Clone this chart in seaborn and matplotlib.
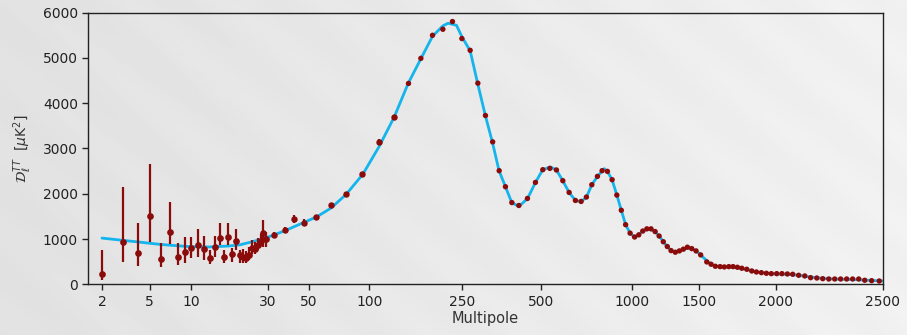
import numpy as np
import matplotlib
matplotlib.use("Agg")
import matplotlib.pyplot as plt
import seaborn as sns

# low multipoles, one point per l, asymmetric errors
ell_low = [2, 3, 4, 5, 6, 7, 8, 9, 10, 11, 12, 13, 14, 15, 16, 17, 18, 19, 20,
           21, 22, 23, 24, 25, 26, 27, 28, 29]
dl_low = [221, 943, 700, 1512, 567, 1165, 611, 708, 810, 870, 781, 575, 833, 1032,
          611, 1040, 664, 965, 649, 598, 575, 649, 797, 775, 870, 965, 1129, 996]
lo_low = [126, 443, 295, 569, 191, 273, 184, 243, 235, 270, 243, 126, 222, 162,
          146, 170, 164, 206, 171, 120, 110, 110, 120, 110, 120, 120, 296, 177]
hi_low = [538, 1204, 650, 1145, 354, 657, 310, 332, 230, 340, 288, 184, 236, 332,
          148, 310, 133, 266, 110, 190, 160, 170, 170, 160, 160, 150, 295, 169]

# first binned points (small error bars still visible)
ell_mid = [32.2, 37.1, 41.9, 47.0, 54.6, 64.6, 76.9, 92.6, 110.1, 128.4]
dl_mid = [1091, 1195, 1440, 1364, 1483, 1756, 1992, 2435, 3150, 3690]
err_mid = [70, 60, 90, 70, 50, 45, 45, 45, 50, 50]

# binned high-l points
ell_high = [147.5, 166.7, 187, 207.2, 227.8, 250, 268.8, 287.5, 307.3, 327.3,
            346.4, 366, 387, 411.5, 443.6, 475.7, 506.5, 534.4, 562, 590.2,
            619.3, 649.8, 678.7, 706.8, 736.6, 768.9, 797, 830, 860.3, 891.8,
            922.9, 953.8, 987.2, 1017, 1043, 1068.5, 1095, 1123, 1151, 1179,
            1209, 1238.5, 1267, 1300, 1332, 1364.5, 1398, 1435, 1473, 1509,
            1544, 1569, 1594.5, 1623, 1649, 1677, 1704, 1732, 1761, 1794,
            1828, 1860, 1895, 1931, 1967, 2004, 2026, 2049, 2072, 2098,
            2125, 2151, 2179, 2206, 2234, 2262, 2290, 2319, 2348, 2378,
            2408, 2443, 2482]
dl_high = [4434, 4988, 5497, 5630, 5800, 5424, 5165, 4440, 3726, 3144,
           2508, 2154, 1804, 1740, 1895, 2249, 2530, 2559, 2524, 2287,
           2028, 1851, 1829, 1926, 2198, 2382, 2508, 2493, 2309, 1970,
           1634, 1316, 1129, 1044, 1092, 1176, 1224, 1224, 1164, 1066,
           940, 834, 744, 708, 737, 775, 819, 788, 737, 649,
           494, 443, 398, 390, 383, 390, 390, 376, 354, 332,
           294, 272, 257, 243, 235, 235, 235, 228, 221, 199,
           184, 146, 139, 124, 117, 117, 117, 117, 117, 117,
           89, 80, 73]

# best-fit model curve
ell_model = [2, 3, 4, 6, 8, 10, 13, 17, 20, 24, 30, 37, 45, 55, 65, 77, 93,
             110, 128, 147, 167, 187, 207, 218, 237, 250, 269, 287, 307, 327,
             346, 366, 387, 412, 444, 476, 506, 537, 562, 590, 619, 650, 678,
             707, 737, 769, 810, 830, 860, 892, 923, 954, 987, 1020, 1068, 1110,
             1150, 1180, 1209, 1238, 1267, 1295, 1332, 1365, 1410, 1435, 1473,
             1509, 1544, 1569, 1594, 1623, 1650, 1680, 1705, 1732, 1761, 1794,
             1828, 1860, 1895, 1931, 1967, 2004, 2049, 2098, 2151, 2206, 2262,
             2319, 2378, 2443, 2500]
dl_model = [1020, 970, 935, 880, 850, 830, 825, 845, 870, 940, 1040, 1180,
            1330, 1490, 1690, 1990, 2430, 3030, 3690, 4434, 4988, 5475, 5703,
            5763, 5718, 5468, 5149, 4434, 3726, 3122, 2508, 2154, 1800, 1718,
            1895, 2249, 2530, 2590, 2524, 2287, 2028, 1851, 1822, 1926, 2198,
            2382, 2553, 2493, 2309, 1970, 1634, 1316, 1129, 1030, 1176, 1230,
            1164, 1066, 940, 834, 744, 710, 737, 775, 805, 788, 737, 649, 520,
            443, 400, 385, 385, 385, 378, 365, 350, 325, 298, 275, 258, 243,
            235, 228, 220, 200, 160, 130, 115, 108, 100, 85, 73]

x_ticks = [2, 5, 10, 30, 50, 100, 250, 500, 1000, 1500, 2000, 2500]

# hybrid multipole axis: tick positions measured on the reference (pixels)
knot_ell = np.array([1.0] + x_ticks + [3000.0])
knot_pos = np.array([65.7, 101.7, 149.3, 191.0, 267.7, 308.3, 369.0, 461.7,
                     541.0, 631.7, 699.0, 775.7, 882.7, 970.1])
knot_ln = np.log(knot_ell)


def fwd(x):
    x = np.clip(np.asarray(x, dtype=float), 1e-3, None)
    return np.interp(np.log(x), knot_ln, knot_pos)


def inv(y):
    return np.exp(np.interp(np.asarray(y, dtype=float), knot_pos, knot_ln))


sns.set_style("ticks")
plt.rcParams["font.family"] = ["DejaVu Sans"]

fig = plt.figure(figsize=(9.07, 3.35), dpi=100)

# light grey sheet in the background
bg = fig.add_axes([0, 0, 1, 1], zorder=-10)
gx, gy = np.meshgrid(np.linspace(0, 1, 450), np.linspace(0, 1, 170))
sheet = 0.885 + 0.06 * gx + 0.006 * np.sin(2 * np.pi * (gx * 9 - gy * 4))
bg.imshow(sheet, cmap="gray", vmin=0, vmax=1, aspect="auto",
          extent=[0, 1, 0, 1])
bg.axis("off")

ax = fig.add_axes([88.3 / 907, 1 - 284.3 / 335, (882.7 - 88.3) / 907,
                   (284.3 - 12.5) / 335])
ax.set_facecolor("none")
ax.set_xscale("function", functions=(fwd, inv))

sns.lineplot(x=ell_model, y=dl_model, ax=ax, color="#14b4ec", lw=2.0,
             zorder=2)

red = "#8b0a0a"
ax.errorbar(ell_low, dl_low, yerr=[lo_low, hi_low], fmt="o", color=red,
            ms=3.8, elinewidth=1.6, capsize=0, zorder=3)
ax.errorbar(ell_mid, dl_mid, yerr=err_mid, fmt="o", color=red,
            ms=3.6, elinewidth=1.6, capsize=0, zorder=3)
sns.scatterplot(x=ell_high, y=dl_high, ax=ax, color=red, s=15,
                edgecolor="none", zorder=3)

ax.set_xlim(1.536, 2500)
ax.set_ylim(0, 6000)
ax.set_xticks(x_ticks)
ax.set_xticklabels([str(t) for t in x_ticks])
ax.xaxis.set_minor_locator(matplotlib.ticker.NullLocator())
ax.set_yticks([0, 1000, 2000, 3000, 4000, 5000, 6000])
ax.tick_params(labelsize=10, length=4, width=1, colors="#222222")

for s in ax.spines.values():
    s.set_visible(True)
    s.set_color("#222222")
    s.set_linewidth(1.0)

ax.set_xlabel("Multipole", fontsize=10.5, color="#333333", labelpad=2)
ax.set_ylabel(r"$\mathcal{D}_\ell^{TT}$  [$\mu$K$^2$]", fontsize=10,
              color="#333333", labelpad=6)

fig.savefig("out.png", dpi=100)
